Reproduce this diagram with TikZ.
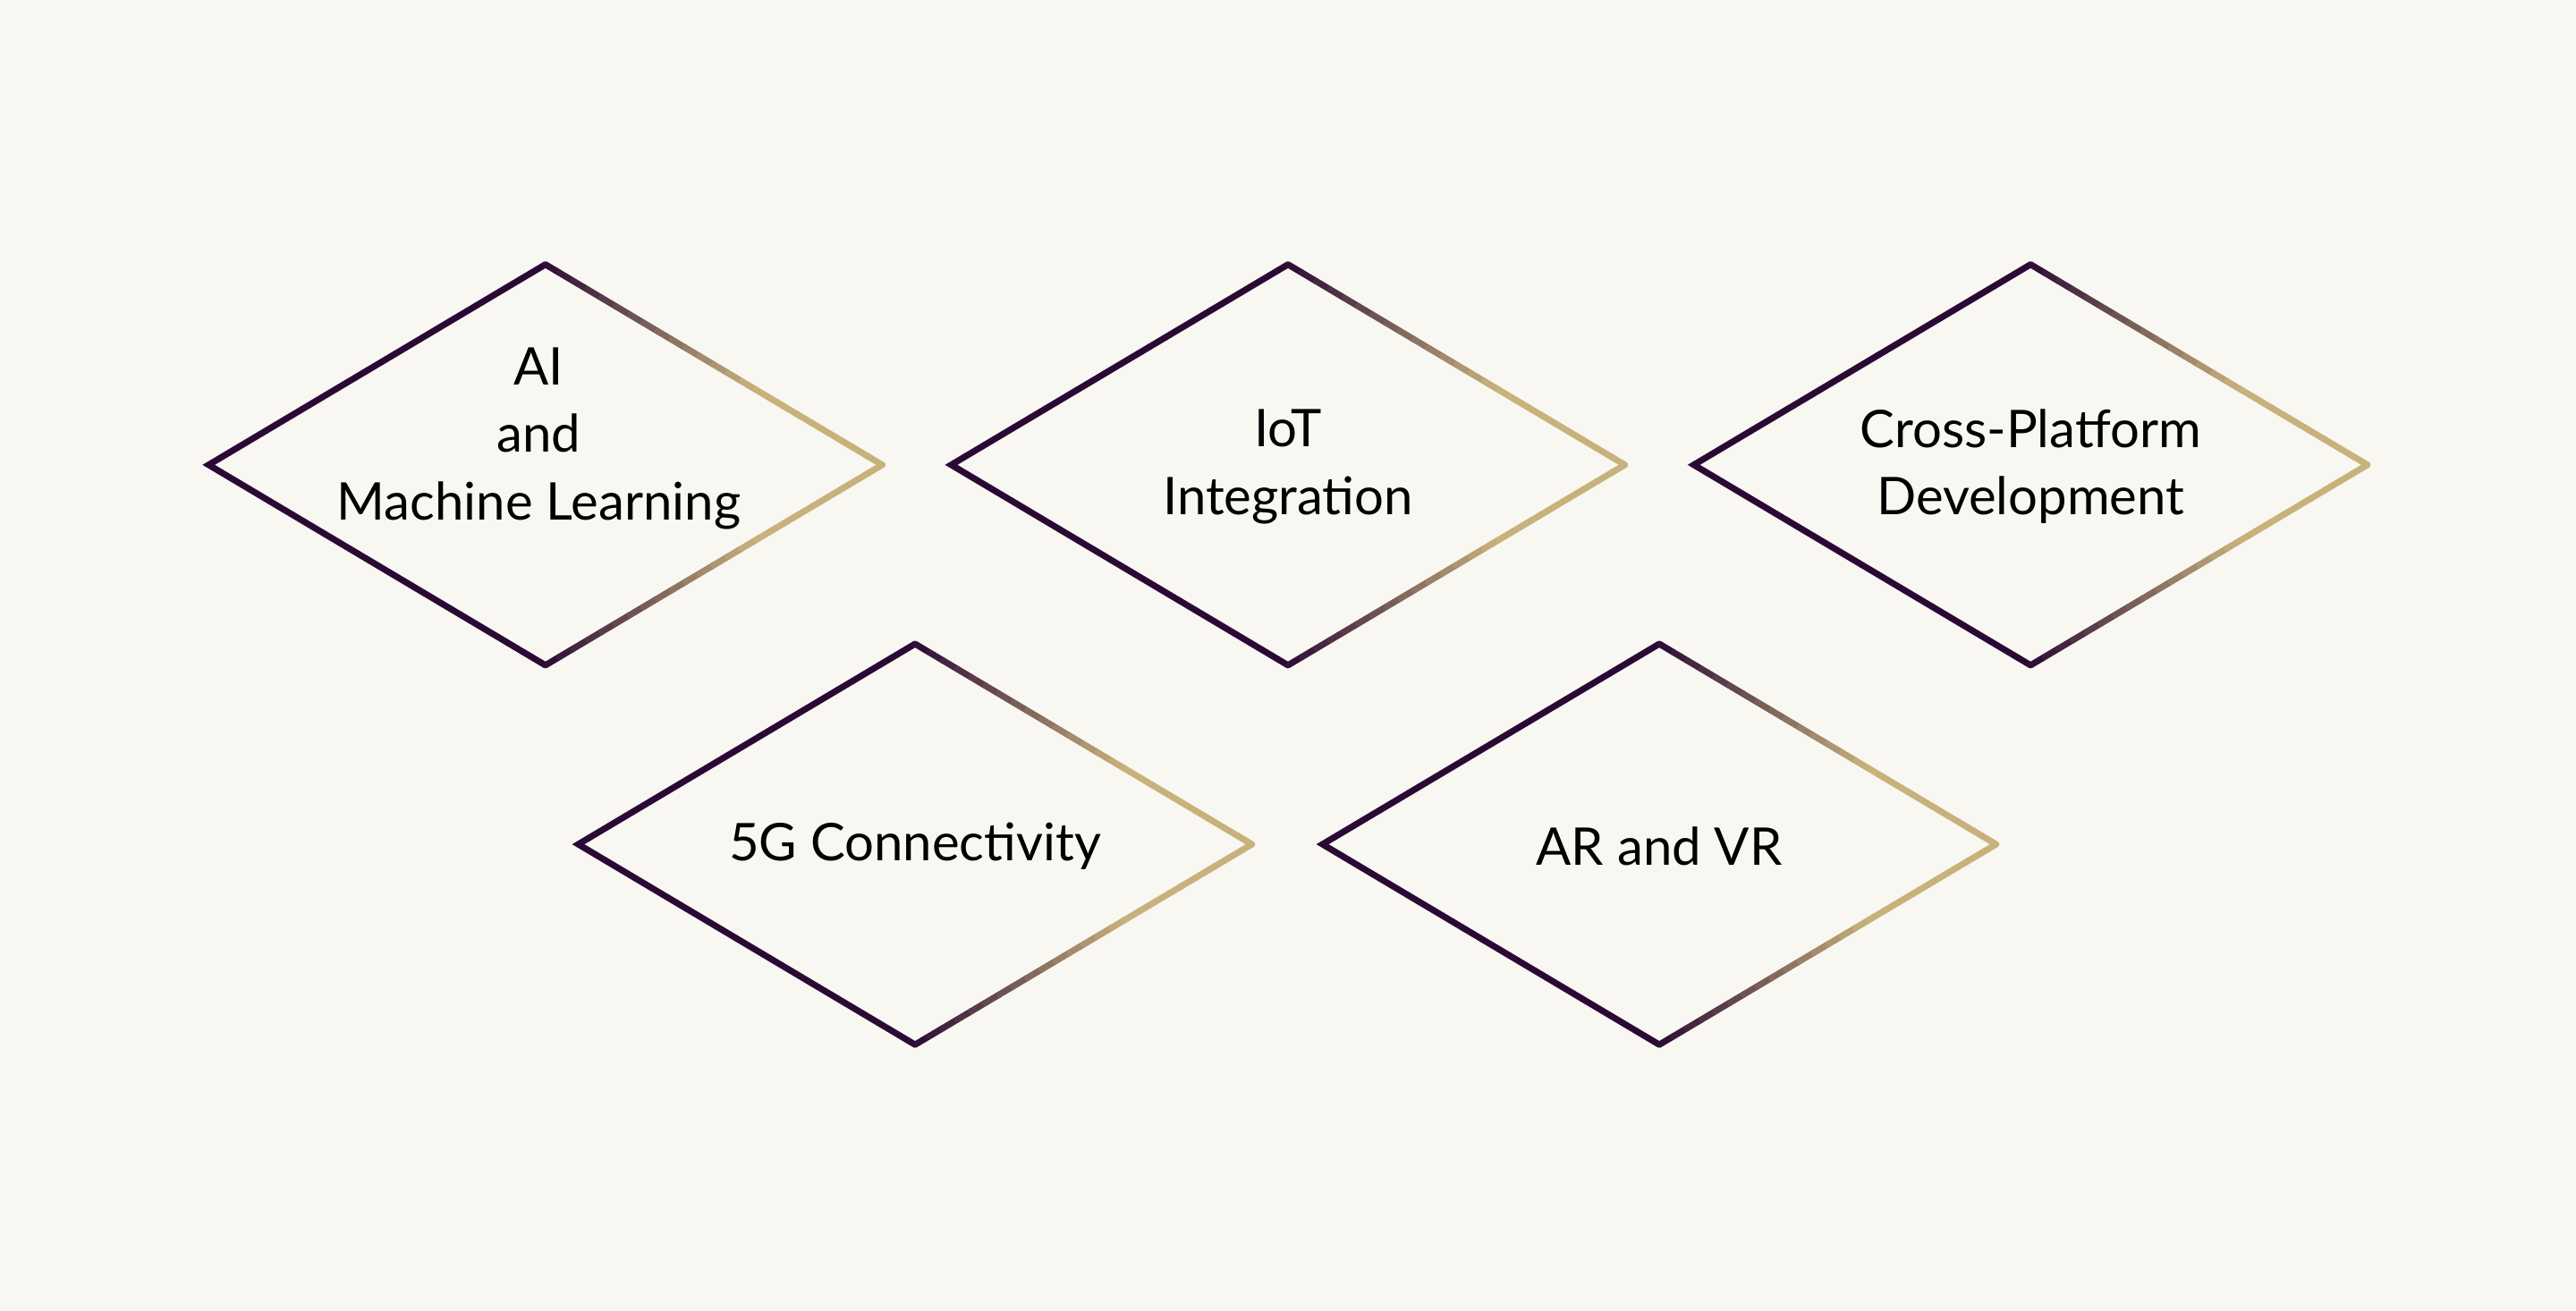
\documentclass[tikz,border=0pt]{standalone}
\usepackage{fontspec}
\setmainfont{Lato}
\usetikzlibrary{calc}
\definecolor{ink}{HTML}{2A0A35}
\definecolor{gold}{HTML}{C8B27C}
\definecolor{paper}{HTML}{F8F7F2}
\tikzset{
  label text/.style={font=\fontsize{18}{23.5}\selectfont, align=center, text=black},
  edge dark/.style={draw=ink, line width=2.2pt, line join=miter},
}
\newcommand{\shadeedge}[2]{%
  \foreach \i in {0,...,23} {
    \pgfmathsetmacro\ta{\i/24}
    \pgfmathsetmacro\tb{(\i+1)/24}
    \pgfmathsetmacro\pc{min(100,160*(\i+0.5)/24)}
    \draw [line width=2.2pt, color=gold!\pc!ink, line cap=round]
      ($(#1)!\ta!(#2)$) -- ($(#1)!\tb!(#2)$);
  }}
\begin{document}
\begin{tikzpicture}[x=0.02cm, y=-0.02cm]
  \fill [paper] (0,0) rectangle (1568,798);
  \useasboundingbox (0,0) rectangle (1568,798);
  % diamond centres
  \coordinate (c1) at (332,283);
  \coordinate (c2) at (784,283);
  \coordinate (c3) at (1236,283);
  \coordinate (c4) at (557,514);
  \coordinate (c5) at (1010,514);
  \foreach \c in {c1,c2,c3,c4,c5} {
    \coordinate (\c-n) at ($(\c)+(0,-122)$);
    \coordinate (\c-s) at ($(\c)+(0,122)$);
    \coordinate (\c-w) at ($(\c)+(-205,0)$);
    \coordinate (\c-e) at ($(\c)+(205,0)$);
    \draw [edge dark] (\c-s) -- (\c-w) -- (\c-n);
    \shadeedge{\c-n}{\c-e}
    \shadeedge{\c-s}{\c-e}
  }
  \node [label text] (1) at (328,267) {AI\\and\\Machine Learning};
  \node [label text] (2) at (784,284) {IoT\\Integration};
  \node [label text] (3) at (1236,284) {Cross-Platform\\Development};
  \node [label text] (4) at (557,515) {5G Connectivity};
  \node [label text] (5) at (1010,515) {AR and VR};
\end{tikzpicture}
\end{document}
